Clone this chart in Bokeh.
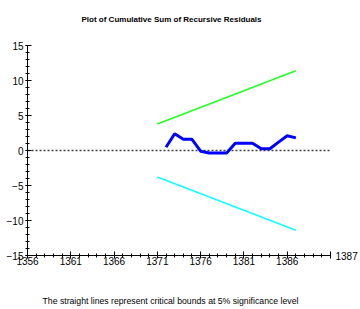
from bokeh.plotting import figure
from bokeh.models import Range1d, FixedTicker, Title, LinearAxis
from bokeh.embed import file_html
from bokeh.resources import INLINE

# ---- data ----
cusum_years = [1372, 1373, 1374, 1375, 1376, 1377, 1378, 1379, 1380, 1381, 1382,
               1383, 1384, 1385, 1386, 1387]
cusum_values = [0.47, 2.4, 1.6, 1.6, -0.1, -0.35, -0.35, -0.35, 1.05, 1.05, 1.05,
                0.25, 0.25, 1.2, 2.1, 1.8]
bound_years = [1371, 1387]
upper_bound = [3.79, 11.38]
lower_bound = [-3.79, -11.38]
zero_years = [1356, 1391]
zero_values = [0, 0]

x_ticks = [1356, 1361, 1366, 1371, 1376, 1381, 1386, 1391]
x_minor = list(range(1356, 1392))
y_ticks = [-15, -10, -5, 0, 5, 10, 15]
y_minor = list(range(-15, 16))
end_label = "1387"
title_text = "Plot of Cumulative Sum of Recursive Residuals"
note_text = "The straight lines represent critical bounds at 5% significance level"

FONT = "Liberation Sans"

W, H = 360, 309
p = figure(width=W, height=H, output_backend="svg", toolbar_location=None,
           x_range=Range1d(1356, 1391), y_range=Range1d(-15, 15),
           min_border_left=27, min_border_right=30, min_border_top=45,
           min_border_bottom=54)
p.outline_line_color = None
p.grid.visible = False
p.background_fill_color = "white"
p.border_fill_color = "white"
p.title.text = ""


def spacer(size):
    # an invisible axis used only to reserve space in a side panel
    return LinearAxis(ticker=FixedTicker(ticks=[1373.5], minor_ticks=[]),
                      major_label_overrides={1373.5: ""},
                      major_label_text_font_size="1px",
                      axis_line_color=None, major_tick_line_color=None,
                      minor_tick_line_color=None, major_tick_in=0,
                      major_tick_out=size, major_label_standoff=0)


for ax in (p.xaxis[0], p.yaxis[0]):
    ax.axis_line_color = "black"
    ax.major_tick_line_color = "black"
    ax.minor_tick_line_color = "black"
    ax.major_label_text_font = FONT
    ax.major_label_text_font_size = "10px"
    ax.major_label_text_color = "black"

p.xaxis.ticker = FixedTicker(ticks=x_ticks, minor_ticks=x_minor)
p.xaxis.major_label_overrides = {1391: ""}
p.xaxis.major_tick_in = 4
p.xaxis.major_tick_out = 3
p.xaxis.minor_tick_in = 2
p.xaxis.minor_tick_out = 2
p.xaxis.major_label_standoff = -2

p.yaxis.ticker = FixedTicker(ticks=y_ticks, minor_ticks=y_minor)
p.yaxis.major_tick_in = 4
p.yaxis.major_tick_out = 2
p.yaxis.minor_tick_in = 2
p.yaxis.minor_tick_out = 2
p.yaxis.major_label_standoff = 2

# end label of the time axis, shown to the right of the axis end
end_axis = LinearAxis(ticker=FixedTicker(ticks=[-15], minor_ticks=[]),
                      major_label_overrides={-15: end_label},
                      axis_line_color=None, major_tick_line_color=None,
                      minor_tick_line_color=None, major_tick_out=0, major_tick_in=0,
                      major_label_standoff=5,
                      major_label_text_font=FONT, major_label_text_font_size="10px",
                      major_label_text_color="black")
p.add_layout(end_axis, "right")

# title (above, with a spacer between it and the plot area)
p.add_layout(spacer(22), "above")
main_title = Title(text=title_text, text_font=FONT, text_font_size="8px",
                   text_font_style="bold", text_color="black", align="left",
                   offset=54, standoff=0)
p.add_layout(main_title, "above")

# footnote (below the x axis, with a spacer)
p.add_layout(spacer(26), "below")
note = Title(text=note_text, text_font=FONT, text_font_size="8.7px",
             text_font_style="normal", text_color="black", align="left",
             offset=15, standoff=0)
p.add_layout(note, "below")

p.line(zero_years, zero_values, line_color="#404040", line_width=1.6, line_dash="2 2")
p.line(bound_years, upper_bound, line_color="#22ff22", line_width=1.6)
p.line(bound_years, lower_bound, line_color="#11ffff", line_width=1.6)
p.line(cusum_years, cusum_values, line_color="#0000ff", line_width=3)

open("out.html", "w").write(file_html(p, INLINE))
